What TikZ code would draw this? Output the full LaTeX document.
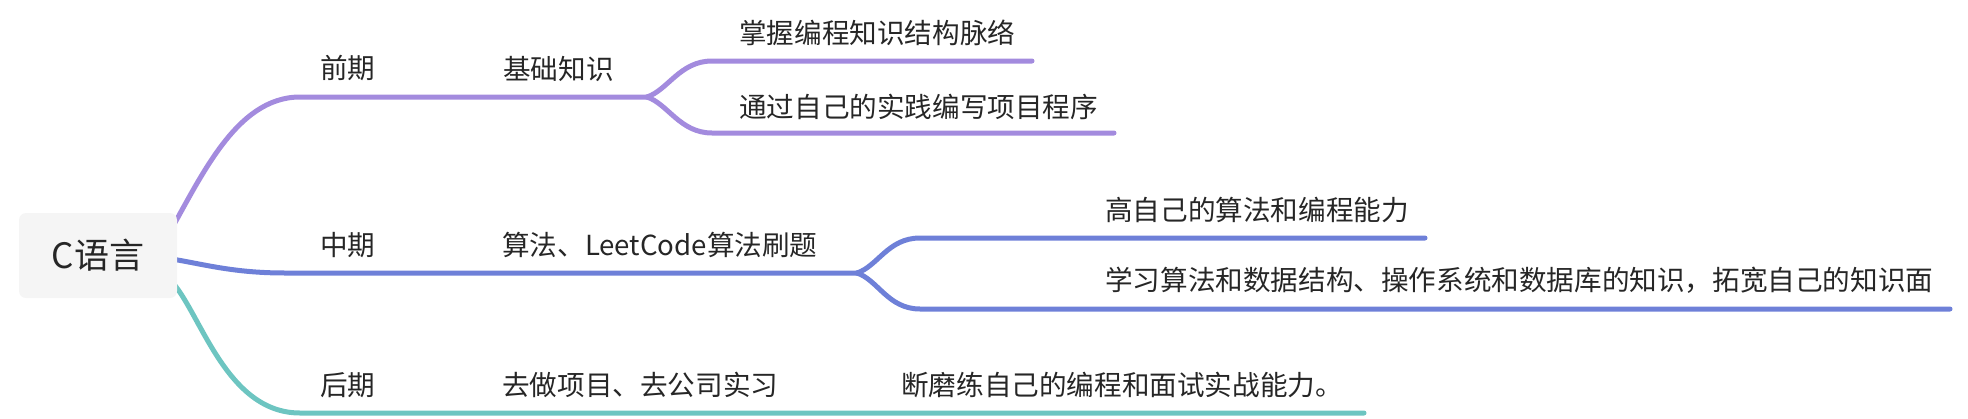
\documentclass[tikz,border=0pt]{standalone}
\usepackage{fontspec}
\setmainfont{Noto Sans CJK SC}
\usetikzlibrary{calc}
\pgfdeclarelayer{background}
\pgfsetlayers{background,main}
\definecolor{cpurple}{HTML}{A38BDE}
\definecolor{cblue}{HTML}{6E80D8}
\definecolor{cteal}{HTML}{6DC5C1}
\definecolor{ctext}{HTML}{262626}
\definecolor{crootfill}{HTML}{F5F5F5}
\begin{document}
\begin{tikzpicture}[x=1pt,y=-1pt,
  branch/.style={line width=5pt, line cap=round, line join=round},
  lbl/.style={anchor=base west, inner sep=0pt, text=ctext, font=\fontsize{27.6}{32}\selectfont},
  rootbox/.style={fill=crootfill, rounded corners=7pt, minimum width=158pt, minimum height=85pt, inner sep=0pt, text=ctext, font=\fontsize{35}{40}\selectfont}]
\useasboundingbox (0,0) rectangle (1968,418);
\node[rootbox] (root) at (98,255.5) {C语言};
% labels
\node[lbl] (t1) at (320,78.5) {前期};
\node[lbl] (t11) at (503,79.5) {基础知识};
\node[lbl] (t111) at (739,43.5) {掌握编程知识结构脉络};
\node[lbl] (t112) at (739,117.5) {通过自己的实践编写项目程序};
\node[lbl] (t2) at (320,255.5) {中期};
\node[lbl] (t21) at (502,255.5) {算法、LeetCode算法刷题};
\node[lbl] (t211) at (1105,220.5) {高自己的算法和编程能力};
\node[lbl] (t212) at (1105,290.5) {学习算法和数据结构、操作系统和数据库的知识，拓宽自己的知识面};
\node[lbl] (t3) at (320,395.5) {后期};
\node[lbl] (t31) at (502,395.5) {去做项目、去公司实习};
\node[lbl] (t311) at (901,395.5) {断磨练自己的编程和面试实战能力。};
% line points
\coordinate (f1) at (647,97);
\coordinate (e111) at (1032,61);
\coordinate (e112) at (1114,133);
\coordinate (f2) at (857,273);
\coordinate (e211) at (1425,238);
\coordinate (e212) at (1950,309);
\coordinate (e3) at (1364,413);
\begin{pgfonlayer}{background}
\draw[branch,cpurple] ($(root.east)+(-12,-15.5)$) .. controls (200,180) and (235,97) .. (300,97) -- (f1);
\draw[branch,cpurple] (f1) .. controls (668,90) and (680,61) .. (712,61) -- (e111);
\draw[branch,cpurple] (f1) .. controls (668,104) and (680,133) .. (712,133) -- (e112);
\draw[branch,cblue] ($(root.east)+(-12,2.5)$) .. controls (200,263) and (230,273) .. (285,273) -- (f2);
\draw[branch,cblue] (f2) .. controls (878,266) and (888,238) .. (920,238) -- (e211);
\draw[branch,cblue] (f2) .. controls (878,280) and (888,309) .. (920,309) -- (e212);
\draw[branch,cteal] ($(root.east)+(-7,24.5)$) .. controls (200,310) and (225,413) .. (300,413) -- (e3);
\end{pgfonlayer}
\end{tikzpicture}
\end{document}
